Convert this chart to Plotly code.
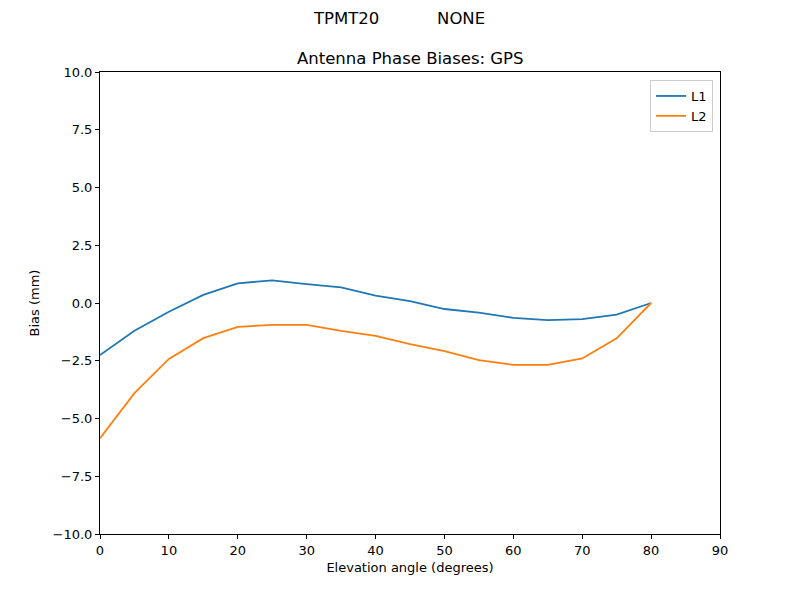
import plotly.graph_objects as go

elev = [0, 5, 10, 15, 20, 25, 30, 35, 40, 45, 50, 55, 60, 65, 70, 75, 80]
l1 = [-2.25, -1.20, -0.38, 0.35, 0.85, 0.98, 0.82, 0.68, 0.32, 0.08, -0.26, -0.42, -0.64, -0.74, -0.70, -0.50, 0.0]
l2 = [-5.85, -3.90, -2.42, -1.52, -1.03, -0.95, -0.95, -1.21, -1.42, -1.78, -2.08, -2.47, -2.68, -2.68, -2.40, -1.53, 0.0]

xticks = [0, 10, 20, 30, 40, 50, 60, 70, 80, 90]
yticks = [-10, -7.5, -5, -2.5, 0, 2.5, 5, 7.5, 10]
ytick_labels = ["\u221210.0", "\u22127.5", "\u22125.0", "\u22122.5", "0.0", "2.5", "5.0", "7.5", "10.0"]

font = "DejaVu Sans"
# page has an 8px body margin; size the figure so the plot lands where the reference has it
W, H = 792, 592
ML, MT = 92, 64
PW, PH = 620, 462
fig = go.Figure()
fig.add_trace(go.Scatter(x=elev, y=l1, mode="lines", name="L1", line=dict(color="#1f77b4", width=1.8)))
fig.add_trace(go.Scatter(x=elev, y=l2, mode="lines", name="L2", line=dict(color="#ff7f0e", width=1.8)))

axis_common = dict(showline=True, linecolor="black", linewidth=1, mirror=True, ticks="outside",
                   ticklen=4, tickcolor="black", showgrid=False, zeroline=False, automargin=False,
                   tickfont=dict(family=font, size=13, color="black"))
fig.update_layout(
    width=W, height=H,
    margin=dict(l=ML, r=W - ML - PW, t=MT, b=H - MT - PH),
    paper_bgcolor="white", plot_bgcolor="white",
    font=dict(family=font, color="black"),
    showlegend=True,
    legend=dict(x=1 - 7 / PW, y=1 - 8 / PH, xanchor="right", yanchor="top", bordercolor="#cccccc", borderwidth=1,
                bgcolor="rgba(255,255,255,0.8)", font=dict(family=font, size=13), tracegroupgap=0),
    xaxis=dict(range=[0, 90], tickvals=xticks, title=dict(text="Elevation angle (degrees)", font=dict(size=13), standoff=6), **axis_common),
    yaxis=dict(range=[-10, 10], tickvals=yticks, ticktext=ytick_labels, title=dict(text="Bias (mm)", font=dict(size=13), standoff=10), **axis_common),
)
fig.add_annotation(text="TPMT20" + "\u00a0" * 11 + "NONE", x=(391 - ML) / PW, y=1 + (72 - 18) / PH,
                   xref="paper", yref="paper", showarrow=False,
                   font=dict(family=font, size=16.5), xanchor="center", yanchor="middle")
fig.add_annotation(text="Antenna Phase Biases: GPS", x=0.5, y=1 + (72 - 59) / PH, xref="paper", yref="paper",
                   showarrow=False, font=dict(family=font, size=16.5), xanchor="center", yanchor="middle")
fig.write_html("out.html")
